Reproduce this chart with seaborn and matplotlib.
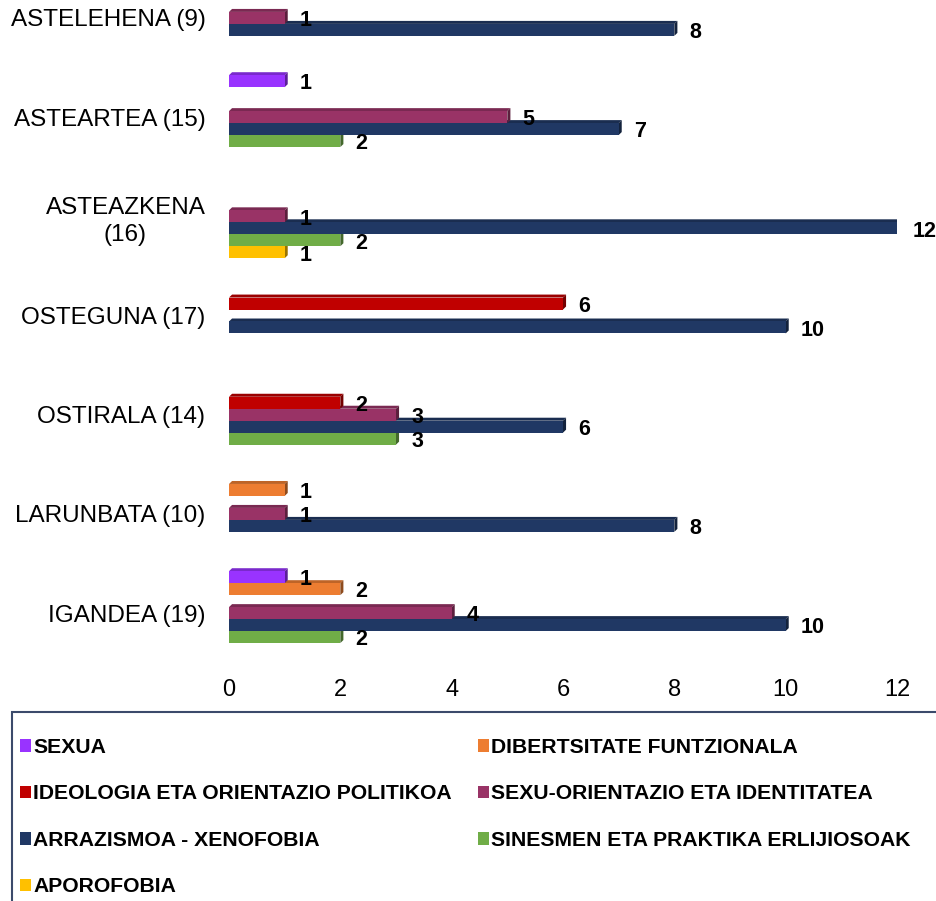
import numpy as np
import pandas as pd
import matplotlib
matplotlib.use("Agg")
import matplotlib.pyplot as plt
import seaborn as sns
from matplotlib.patches import Polygon, Patch, Rectangle
import matplotlib.colors as mcolors

# data
days = ["ASTELEHENA (9)", "ASTEARTEA (15)", "ASTEAZKENA\n(16)", "OSTEGUNA (17)",
        "OSTIRALA (14)", "LARUNBATA (10)", "IGANDEA (19)"]
categories = ["SEXUA", "DIBERTSITATE FUNTZIONALA", "IDEOLOGIA ETA ORIENTAZIO POLITIKOA",
              "SEXU-ORIENTAZIO ETA IDENTITATEA", "ARRAZISMOA - XENOFOBIA",
              "SINESMEN ETA PRAKTIKA ERLIJIOSOAK", "APOROFOBIA"]
sexua = [0, 1, 0, 0, 0, 0, 1]
dibertsitatea = [0, 0, 0, 0, 0, 1, 2]
ideologia = [0, 0, 0, 6, 2, 0, 0]
sexu_orientazioa = [1, 5, 1, 0, 3, 1, 4]
arrazismoa = [8, 7, 12, 10, 6, 8, 10]
sinesmena = [0, 2, 2, 0, 3, 0, 2]
aporofobia = [0, 0, 1, 0, 0, 0, 0]
colors = ["#9933FF", "#ED7D31", "#C00000", "#993366", "#203864", "#70AD47", "#FFC000"]

series = [sexua, dibertsitatea, ideologia, sexu_orientazioa, arrazismoa, sinesmena, aporofobia]
rows = []
for cat, vals in zip(categories, series):
    for d, v in zip(days, vals):
        rows.append({"day": d, "kategoria": cat, "value": v})
df = pd.DataFrame(rows)

sns.set_style("white")
plt.rcParams["font.family"] = ["Liberation Sans", "DejaVu Sans"]
plt.rcParams["text.color"] = "black"
plt.rcParams["xtick.color"] = "black"
plt.rcParams["ytick.color"] = "black"

fig = plt.figure(figsize=(9.37, 9.01), dpi=100)
ax = fig.add_axes([229 / 937, (901 - 662.7) / 901, 668 / 937, 694.4 / 901])

sns.barplot(data=df, x="value", y="day", hue="kategoria", order=days, hue_order=categories,
            palette=colors, orient="h", width=0.845, saturation=1, linewidth=0,
            legend=False, ax=ax)

ax.set_xlim(0, 12)
ax.set_ylim(6.5, -0.5)
ax.set_xticks(range(0, 13, 2))
ax.set_xlabel("")
ax.set_ylabel("")
for s in ax.spines.values():
    s.set_visible(False)
ax.tick_params(axis="x", length=0, pad=12, labelsize=17)
ax.tick_params(axis="y", length=0, pad=17, labelsize=17.5)
for lbl in ax.get_yticklabels():
    lbl.set_multialignment("center")
    lbl.set_linespacing(1.3)

# fake 3d depth on each bar
dx, dy = 0.055, 0.03
for k, cont in enumerate(ax.containers):
    base = np.array(mcolors.to_rgb(colors[k]))
    zo = 2 + (7 - k) / 10
    for p, v in zip(cont.patches, series[k]):
        p.set_zorder(zo)
        if v == 0:
            continue
        x0, y0 = p.get_x(), p.get_y()
        w, h = p.get_width(), p.get_height()
        x1 = x0 + w
        top = Polygon([(x0, y0), (x1, y0), (x1 + dx, y0 - dy), (x0 + dx, y0 - dy)],
                      closed=True, facecolor=base * 0.8, edgecolor="none", zorder=zo - 0.05)
        side = Polygon([(x1, y0), (x1 + dx, y0 - dy), (x1 + dx, y0 + h - dy), (x1, y0 + h)],
                       closed=True, facecolor=base * 0.6, edgecolor="none", zorder=zo - 0.05)
        ax.add_patch(top)
        ax.add_patch(side)
        ax.annotate(str(v), xy=(x1, y0 + h / 2), xytext=(11, -2), textcoords="offset points",
                    ha="left", va="center", fontsize=15.5, fontweight="bold",
                    annotation_clip=False, zorder=10)

# legend box, cut by the figure edge like the original
fig.patches.append(Rectangle((12 / 937, -0.05), 1.0, (901 - 712) / 901 + 0.05,
                             transform=fig.transFigure, fill=False,
                             edgecolor="#3B4A6B", linewidth=1.5))
order = [0, 2, 4, 6, 1, 3, 5]
handles = [Patch(facecolor=colors[i], edgecolor="none") for i in order]
labels = [categories[i] for i in order]
fig.legend(handles, labels, loc="upper left", bbox_to_anchor=(20 / 937, (901 - 738) / 901),
           ncol=2, frameon=False, prop={"weight": "bold", "size": 15.2},
           handlelength=0.5, handleheight=0.55, handletextpad=0.12,
           labelspacing=1.3, columnspacing=1.25, borderpad=0, borderaxespad=0)

fig.savefig("out.png", dpi=100)
